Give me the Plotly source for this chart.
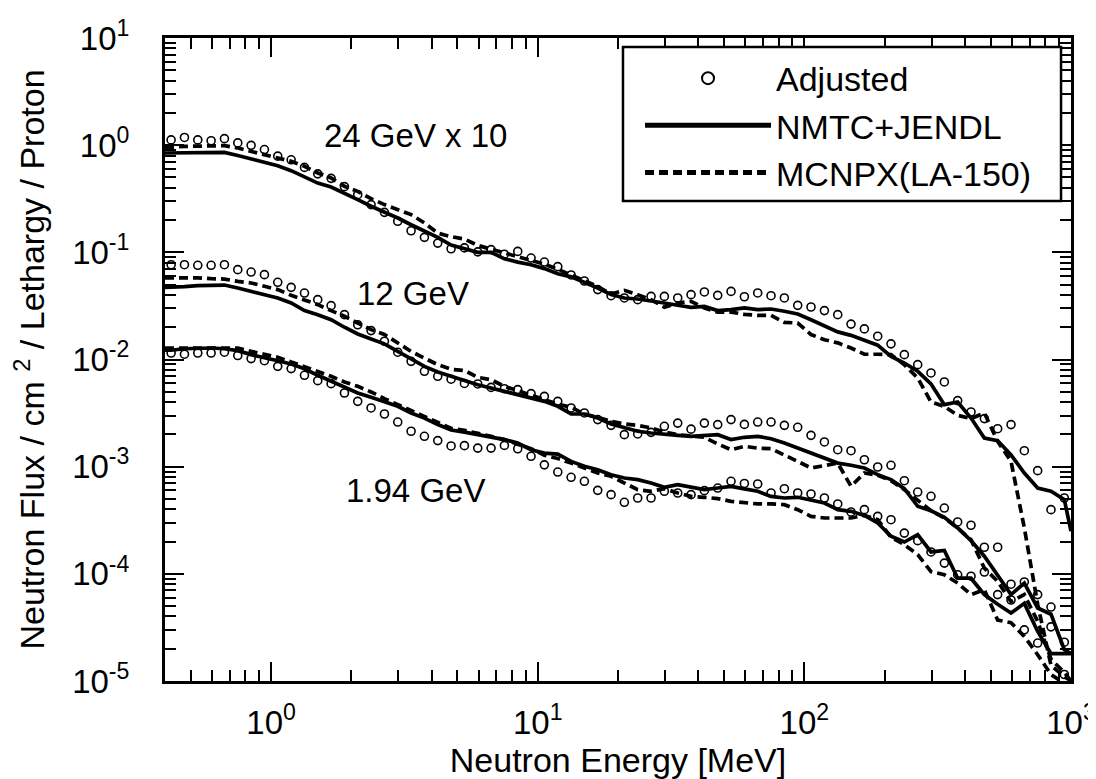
import plotly.graph_objects as go

# ---------------- data ----------------
# Energy bin centres of the "Adjusted" spectra [MeV], 20 bins per decade
E_ADJ = [0.4217, 0.4732, 0.5309, 0.5957, 0.6683, 0.7499, 0.8414, 0.9441,
         1.059, 1.189, 1.334, 1.496, 1.679, 1.884, 2.113, 2.371, 2.661, 2.985,
         3.350, 3.758, 4.217, 4.732, 5.309, 5.957, 6.683, 7.499, 8.414, 9.441,
         10.59, 11.89, 13.34, 14.96, 16.79, 18.84, 21.13, 23.71, 26.61, 29.85,
         33.50, 37.58, 42.17, 47.32, 53.09, 59.57, 66.83, 74.99, 84.14, 94.41,
         105.9, 118.9, 133.4, 149.6, 167.9, 188.4, 211.3, 237.1, 266.1, 298.5,
         335.0, 375.8, 421.7, 473.2, 530.9, 595.7, 668.3, 749.9, 841.4, 944.1]

# Energies of the calculated spectra (same bins plus the two range ends) [MeV]
E_CALC = [0.40] + E_ADJ + [1000.0]

# ---- 24 GeV (x 10) ----
ADJ_24 = [1.12, 1.18, 1.12, 1.10, 1.15, 1.05, 0.996, 0.91, 0.79, 0.73, 0.62,
          0.54, 0.49, 0.41, 0.345, 0.279, 0.236, 0.195, 0.159, 0.138, 0.122,
          0.108, 0.110, 0.101, 0.106, 0.096, 0.102, 0.0885, 0.0812, 0.0735,
          0.0615, 0.054, 0.0449, 0.0394, 0.0375, 0.0362, 0.0388, 0.0388,
          0.0375, 0.0403, 0.0427, 0.0397, 0.0432, 0.0385, 0.0418, 0.0394,
          0.0375, 0.032, 0.0309, 0.0286, 0.0262, 0.0214, 0.0193, 0.0165,
          0.0140, 0.0111, 0.00895, 0.00749, 0.00617, 0.00413, 0.00324,
          0.00281, 0.00226, 0.00247, 0.00141, 0.000918, 0.000397, 0.00051]
NMTC_24 = [0.845,
           0.845, 0.845, 0.845, 0.85, 0.857, 0.80, 0.743, 0.697, 0.644, 0.578,
           0.501, 0.443, 0.407, 0.358, 0.310, 0.269, 0.238, 0.209, 0.181,
           0.157, 0.138, 0.117, 0.108, 0.100, 0.100, 0.087, 0.081, 0.0765,
           0.0705, 0.063, 0.059, 0.0527, 0.0465, 0.0403, 0.0375, 0.0367,
           0.0354, 0.0337, 0.0321, 0.0307, 0.0313, 0.0286, 0.0292, 0.0303,
           0.0292, 0.0296, 0.0282, 0.0266, 0.0235, 0.0204, 0.0181, 0.0168,
           0.0150, 0.0136, 0.0107, 0.00927, 0.00776, 0.00591, 0.00379,
           0.00401, 0.00284, 0.00185, 0.00175, 0.00129, 0.000873, 0.000632,
           0.000589, 0.000492,
           0.00025]
MCNPX_24 = [0.955,
            0.955, 0.975, 0.975, 0.975, 0.99, 0.94, 0.875, 0.814, 0.769,
            0.706, 0.635, 0.550, 0.494, 0.413, 0.371, 0.317, 0.279, 0.250,
            0.225, 0.188, 0.151, 0.14, 0.133, 0.116, 0.107, 0.099, 0.091,
            0.0845, 0.0775, 0.0695, 0.0618, 0.0546, 0.048, 0.0408, 0.0442,
            0.0403, 0.0362, 0.0307, 0.0337, 0.0349, 0.0303, 0.0277, 0.0277,
            0.0264, 0.0258, 0.0258, 0.0222, 0.0219, 0.0171, 0.0153, 0.0143,
            0.0128, 0.0112, 0.0112, 0.0111, 0.00895, 0.00672, 0.00401,
            0.00365, 0.00301, 0.00281, 0.00317, 0.00172, 0.00112, 0.000268,
            5.2e-5, 1.4e-5, 1.1e-5,
            1.0e-5]

# ---- 12 GeV ----
ADJ_12 = [0.0767, 0.0767, 0.0757, 0.0757, 0.0767, 0.0689, 0.0655, 0.0619,
          0.0525, 0.0471, 0.0417, 0.0362, 0.0318, 0.0262, 0.0211, 0.0186,
          0.0148, 0.0117, 0.00961, 0.00776, 0.00697, 0.00655, 0.00598,
          0.00591, 0.00549, 0.00534, 0.00523, 0.0048, 0.00453, 0.00407,
          0.00353, 0.00317, 0.00275, 0.00243, 0.00199, 0.00202, 0.00209,
          0.00238, 0.00255, 0.00224, 0.00255, 0.00247, 0.00275,
          0.00248, 0.00261, 0.00261, 0.00243, 0.00233, 0.00196, 0.0017,
          0.00144, 0.00141, 0.00116, 0.000993, 0.00103, 0.00074, 0.00058,
          0.000529, 0.000411, 0.000305, 0.000284, 0.000177, 0.000177,
          8.0e-5, 8.4e-5, 6.4e-5, 4.9e-5, 2.3e-5]
NMTC_12 = [0.0471,
           0.0471, 0.0478, 0.0489, 0.0495, 0.0495, 0.0465, 0.0432, 0.0403,
           0.0375, 0.0337, 0.0286, 0.0262, 0.0235, 0.0200, 0.0173, 0.0155,
           0.0140, 0.0119, 0.0101, 0.00863, 0.00764, 0.0069, 0.00636,
           0.00582, 0.00542, 0.00512, 0.0047, 0.00437, 0.00407, 0.00366,
           0.0031, 0.0031, 0.00284, 0.0025, 0.0023, 0.00214, 0.00206,
           0.00199, 0.00196, 0.00192, 0.00196, 0.00199, 0.00179,
           0.00188, 0.00192, 0.00182, 0.00166, 0.00149, 0.00134, 0.0012,
           0.00108, 0.00103, 0.000972, 0.000842, 0.000757, 0.000623,
           0.000427, 0.000388, 0.000337, 0.000268, 0.000204, 0.000146,
           9.8e-5, 6.4e-5, 8.2e-5, 4.8e-5, 4.2e-5, 1.96e-5,
           1.8e-5]
MCNPX_12 = [0.0577,
            0.0577, 0.0585, 0.0577, 0.0568, 0.0563, 0.0536, 0.0518, 0.0482,
            0.0449, 0.0397, 0.0362, 0.0325, 0.0286, 0.0253, 0.0219, 0.019,
            0.0171, 0.0143, 0.0119, 0.0103, 0.00895, 0.0081, 0.0079,
            0.00682, 0.00648, 0.00562, 0.00512, 0.0047, 0.00422, 0.00384,
            0.00358, 0.0031, 0.00288, 0.00265, 0.0025, 0.00243, 0.0023,
            0.0021, 0.00199, 0.00192, 0.00188, 0.00163, 0.00144,
            0.00155, 0.00149, 0.00147, 0.00129, 0.00112, 0.000972, 0.00103,
            0.00108, 0.000656, 0.000873, 0.00083, 0.00074, 0.00061,
            0.000492, 0.000388, 0.000332, 0.000268, 0.000208, 0.000113,
            8.5e-5, 5.5e-5, 6.4e-5, 3.6e-5, 1.6e-5, 1.2e-5,
            1.0e-5]

# ---- 1.94 GeV ----
ADJ_194 = [0.0115, 0.0112, 0.0115, 0.0115, 0.0117, 0.0109, 0.0102, 0.00975,
           0.00863, 0.00822, 0.00712, 0.00635, 0.00595, 0.00487, 0.00407,
           0.00353, 0.0031, 0.00261, 0.00214, 0.00192, 0.00175, 0.00156,
           0.00157,
           0.00149, 0.00149, 0.00158, 0.00147, 0.00125, 0.00104, 0.000891,
           0.000796, 0.00073, 0.000601, 0.000548, 0.000465, 0.00051,
           0.00051, 0.000589, 0.000568, 0.000548, 0.000597, 0.000632,
           0.00073,
           0.000697, 0.000689, 0.000568, 0.000623, 0.000568, 0.000556,
           0.00051, 0.000449, 0.000378, 0.000397, 0.000344, 0.00032,
           0.00024, 0.000204, 0.00016, 0.000126, 9.8e-5, 9.5e-5, 0.000104,
           6.4e-5, 5.7e-5, 3.0e-5, 2.26e-5, 3.2e-5, 1.15e-5]
NMTC_194 = [0.0122,
            0.0122, 0.0126, 0.0128, 0.0128, 0.0126, 0.0121, 0.0111, 0.0105,
            0.00975, 0.00908, 0.0082, 0.00712, 0.00625, 0.0055, 0.00487,
            0.00444, 0.00407, 0.00366, 0.00317, 0.00284, 0.00247, 0.0022,
            0.0021,
            0.00199, 0.00192, 0.00179, 0.00166, 0.00144, 0.00134, 0.00131,
            0.00112, 0.00101, 0.000938, 0.000842, 0.000784, 0.000757,
            0.000705, 0.000642, 0.000679, 0.000642, 0.00061, 0.000632,
            0.000655,
            0.00062, 0.000589, 0.000528, 0.00051, 0.000518, 0.000492,
            0.000458, 0.000397, 0.000383, 0.000351, 0.000298, 0.000224,
            0.000198, 0.000232, 0.00016, 0.000165, 9.1e-5, 9.1e-5, 6.4e-5,
            5.2e-5, 4.3e-5, 5.3e-5, 2.9e-5, 1.8e-5, 1.8e-5,
            1.8e-5]
MCNPX_194 = [0.0128,
             0.0128, 0.013, 0.013, 0.013, 0.013, 0.0128, 0.0119, 0.0112,
             0.0105, 0.00947, 0.00863, 0.00774, 0.00697, 0.00617, 0.00562,
             0.00498, 0.00431, 0.00379, 0.00333, 0.00295, 0.00256, 0.00228,
             0.00218,
             0.00206, 0.00192, 0.00179, 0.00163, 0.00147, 0.00128, 0.00119,
             0.00108, 0.00097, 0.000873, 0.000813, 0.000705, 0.00061,
             0.000589, 0.000623, 0.000568, 0.000528, 0.000518, 0.000503,
             0.000475,
             0.000462, 0.000449, 0.000449, 0.000442, 0.000397, 0.000344,
             0.000332, 0.000332, 0.000332, 0.000351, 0.00032, 0.000219,
             0.000187, 0.000151, 0.000105, 9.8e-5, 8.2e-5, 6.4e-5, 7.1e-5,
             3.7e-5, 3.5e-5, 2.6e-5, 1.76e-5, 1.15e-5, 0.95e-5,
             0.9e-5]

SETS = [
    ("24 GeV x 10", ADJ_24, NMTC_24, MCNPX_24),
    ("12 GeV", ADJ_12, NMTC_12, MCNPX_12),
    ("1.94 GeV", ADJ_194, NMTC_194, MCNPX_194),
]

X_TICKS = [1, 10, 100, 1000]
X_TICKTEXT = ["10<sup>0</sup>", "10<sup>1</sup>", "10<sup>2</sup>", "10<sup>3</sup>"]
Y_TICKS = [1e-5, 1e-4, 1e-3, 1e-2, 1e-1, 1, 10]
Y_TICKTEXT = ["10<sup>-5</sup>", "10<sup>-4</sup>", "10<sup>-3</sup>",
              "10<sup>-2</sup>", "10<sup>-1</sup>", "10<sup>0</sup>", "10<sup>1</sup>"]

# ---------------- figure ----------------
FONT = "Liberation Sans, Arial, Helvetica, sans-serif"
fig = go.Figure()

for i, (label, adj, nmtc, mcnpx) in enumerate(SETS):
    first = i == 0
    fig.add_trace(go.Scatter(
        x=E_CALC, y=nmtc, mode="lines", name="NMTC+JENDL",
        line=dict(color="black", width=3.7),
        legendgroup="nmtc", showlegend=first, legendrank=2))
    fig.add_trace(go.Scatter(
        x=E_CALC, y=mcnpx, mode="lines", name="MCNPX(LA-150)",
        line=dict(color="black", width=3.7, dash="9px,5px"),
        legendgroup="mcnpx", showlegend=first, legendrank=3))
    fig.add_trace(go.Scatter(
        x=E_ADJ, y=adj, mode="markers", name="Adjusted",
        marker=dict(symbol="circle-open", size=8, color="black",
                    line=dict(width=1.6, color="black")),
        legendgroup="adj", showlegend=first, legendrank=1))

LABEL_POS = {"24 GeV x 10": (0.276, 0.848), "12 GeV": (0.274, 0.603),
             "1.94 GeV": (0.276, 0.2955)}
for label, *_ in SETS:
    px, py = LABEL_POS[label]
    fig.add_annotation(x=px, y=py, xref="paper", yref="paper", text=label,
                       showarrow=False, font=dict(size=33, color="black"),
                       xanchor="center", yanchor="middle")

# legend frame
fig.add_shape(type="rect", xref="paper", yref="paper",
              x0=0.5055, x1=0.989, y0=0.7465, y1=0.986,
              line=dict(color="black", width=2.5), fillcolor="white",
              layer="above")

axis_common = dict(
    type="log", showgrid=False, zeroline=False,
    showline=True, linewidth=3, linecolor="black", mirror="allticks",
    ticks="inside", ticklen=19, tickwidth=2, tickcolor="black",
    tickfont=dict(size=33, color="black"),
    minor=dict(ticks="inside", ticklen=11, tickwidth=1.5, tickcolor="black",
               tickmode="linear", dtick="D1", showgrid=False),
)

fig.update_xaxes(**axis_common, range=[-0.39794, 3],
                 tickmode="array", tickvals=X_TICKS, ticktext=X_TICKTEXT,
                 ticklabelstandoff=10,
                 title=dict(text="Neutron Energy [MeV]",
                            font=dict(size=34, color="black"), standoff=8))
fig.update_yaxes(**axis_common, range=[-5, 1],
                 tickmode="array", tickvals=Y_TICKS, ticktext=Y_TICKTEXT,
                 ticklabelstandoff=26,
                 title=dict(text="Neutron Flux / cm <sup>2</sup> / Lethargy / Proton",
                            font=dict(size=34, color="black"), standoff=18))

fig.update_layout(
    width=1096, height=779,
    margin=dict(l=157, r=33, t=30, b=106, autoexpand=False),
    paper_bgcolor="white", plot_bgcolor="white",
    font=dict(family=FONT, color="black"),
    showlegend=True,
    legend=dict(x=0.5243, y=0.982, xanchor="left", yanchor="top",
                bgcolor="rgba(0,0,0,0)", borderwidth=0,
                font=dict(size=34, color="black"), itemwidth=126,
                tracegroupgap=0, itemsizing="constant"),
)

fig.write_html("out.html")
